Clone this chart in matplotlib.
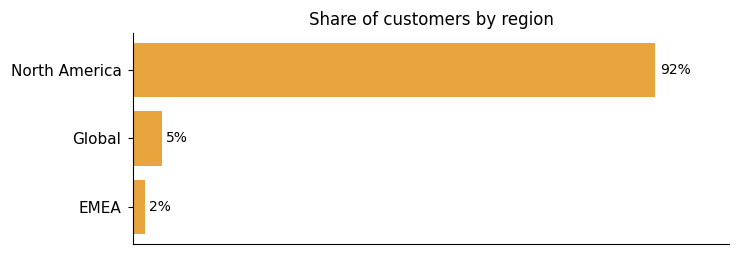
import matplotlib
matplotlib.use("Agg")
import matplotlib.pyplot as plt

regions = ["North America", "Global", "EMEA"]
shares = [92, 5, 2]
labels = ["92%", "5%", "2%"]

fig, ax = plt.subplots(figsize=(7.4, 2.56), dpi=100)
fig.subplots_adjust(left=0.18, right=0.985, top=0.871, bottom=0.047)

ypos = list(range(len(regions)))[::-1]
ax.barh(ypos, shares, height=0.8, color="#E8A43D")
for y, v, t in zip(ypos, shares, labels):
    ax.text(v + 0.8, y, t, va="center", ha="left", fontsize=10)

ax.set_yticks(ypos)
ax.set_yticklabels(regions, fontsize=11)
ax.tick_params(axis="y", pad=5)
ax.set_xticks([])
ax.set_xlim(0, 105)
ax.set_title("Share of customers by region", fontsize=12)
ax.spines["top"].set_visible(False)
ax.spines["right"].set_visible(False)

fig.savefig("out.png", dpi=100)
